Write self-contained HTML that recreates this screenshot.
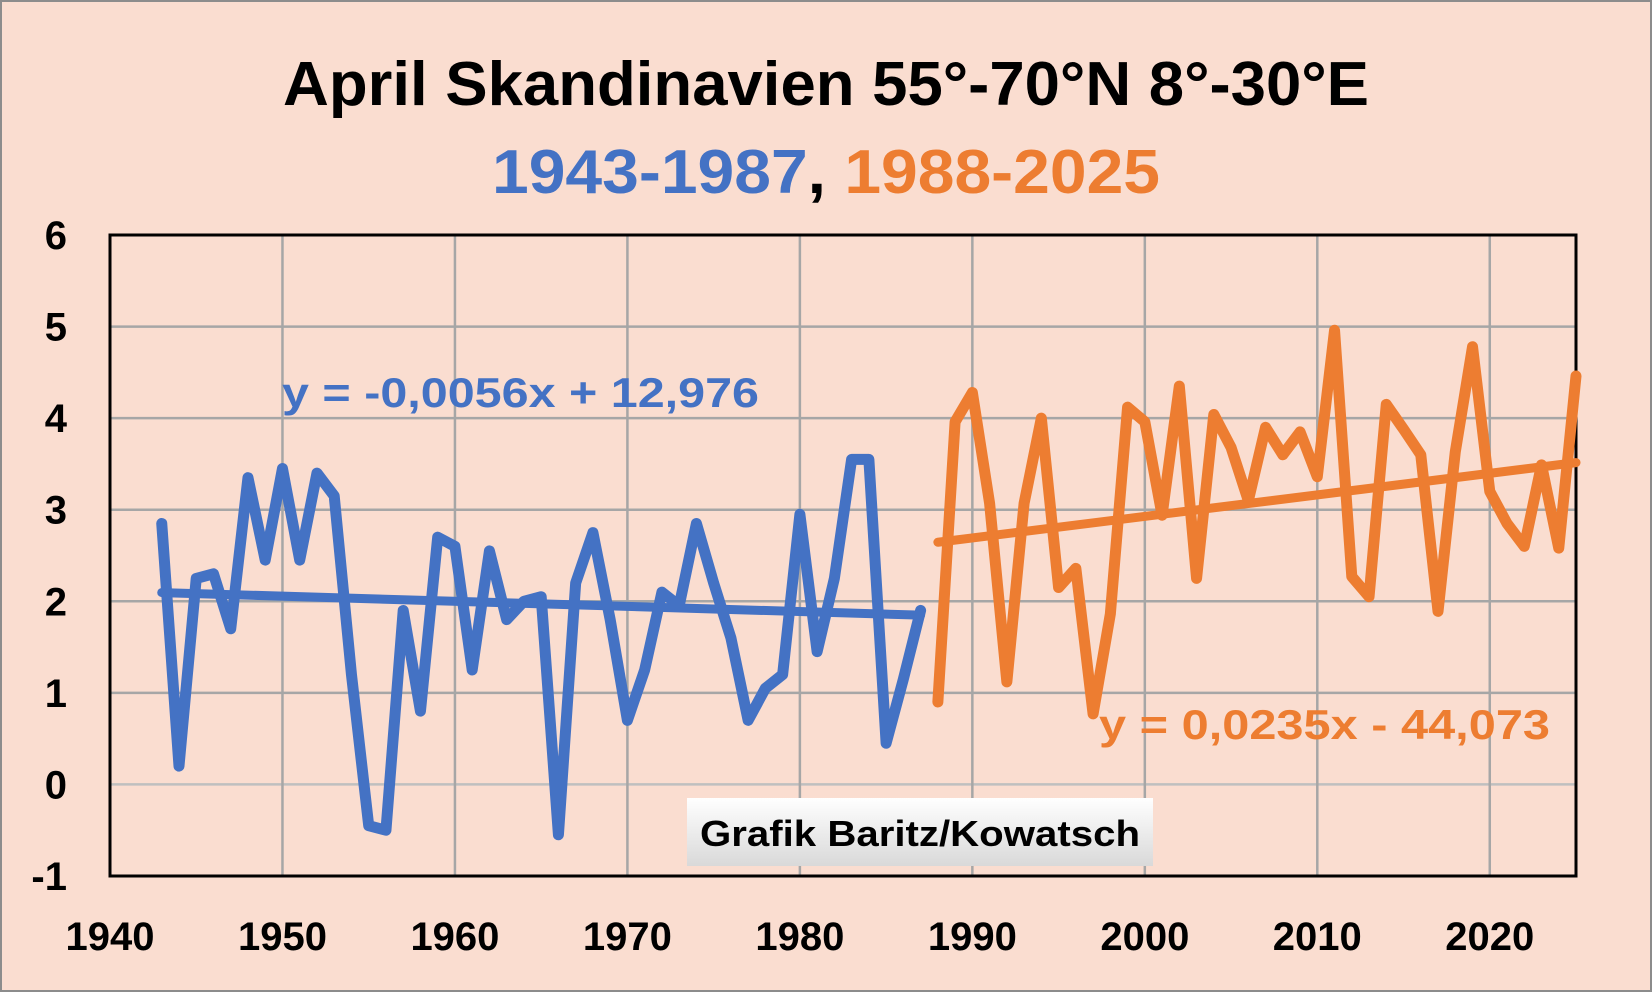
<!DOCTYPE html>
<html><head><meta charset="utf-8"><style>
html,body{margin:0;padding:0;background:#FADDD0;}
svg{display:block;font-family:"Liberation Sans",sans-serif;font-weight:bold;}
</style></head><body>
<svg id="chart" width="1652" height="992" viewBox="0 0 1652 992">
<rect x="1" y="1" width="1650" height="990" fill="#FADDD0" stroke="#8c8c8c" stroke-width="2"/>
<text x="826" y="105" text-anchor="middle" font-size="62" textLength="1086" lengthAdjust="spacingAndGlyphs" fill="#000">April Skandinavien 55°-70°N 8°-30°E</text>
<text x="826" y="193" text-anchor="middle" font-size="62" textLength="668" lengthAdjust="spacingAndGlyphs"><tspan fill="#4472C4">1943-1987</tspan><tspan fill="#000">, </tspan><tspan fill="#ED7D31">1988-2025</tspan></text>
<g id="grid"></g>
<g id="axes"></g>
<g id="series"></g>
<text x="282" y="407" font-size="42" fill="#4472C4" textLength="477" lengthAdjust="spacingAndGlyphs">y = -0,0056x + 12,976</text>
<text x="1099" y="739" font-size="42" fill="#ED7D31" textLength="451" lengthAdjust="spacingAndGlyphs">y = 0,0235x - 44,073</text>
<defs><linearGradient id="wm" x1="0" y1="0" x2="0" y2="1"><stop offset="0" stop-color="#ffffff"/><stop offset="1" stop-color="#d9d9d9"/></linearGradient></defs>
<rect x="687" y="798" width="466" height="68" fill="url(#wm)"/>
<text x="920" y="846" text-anchor="middle" font-size="36" fill="#000" textLength="440" lengthAdjust="spacingAndGlyphs">Grafik Baritz/Kowatsch</text>
</svg>
<script>
const blueYears=[1943,1944,1945,1946,1947,1948,1949,1950,1951,1952,1953,1954,1955,1956,1957,1958,1959,1960,1961,1962,1963,1964,1965,1966,1967,1968,1969,1970,1971,1972,1973,1974,1975,1976,1977,1978,1979,1980,1981,1982,1983,1984,1985,1986,1987];
const blueValues=[2.85,0.2,2.25,2.3,1.7,3.35,2.45,3.45,2.45,3.4,3.15,1.2,-0.45,-0.5,1.9,0.8,2.7,2.6,1.25,2.55,1.8,2.0,2.05,-0.55,2.2,2.75,1.8,0.7,1.25,2.1,1.95,2.85,2.2,1.6,0.7,1.05,1.2,2.95,1.45,2.25,3.55,3.55,0.45,1.15,1.9];
const orangeYears=[1988,1989,1990,1991,1992,1993,1994,1995,1996,1997,1998,1999,2000,2001,2002,2003,2004,2005,2006,2007,2008,2009,2010,2011,2012,2013,2014,2015,2016,2017,2018,2019,2020,2021,2022,2023,2024,2025];
const orangeValues=[0.9,3.96,4.28,3.07,1.12,3.07,4.0,2.15,2.36,0.77,1.86,4.12,3.96,2.94,4.35,2.25,4.04,3.68,3.1,3.9,3.6,3.85,3.36,4.96,2.27,2.05,4.15,3.88,3.6,1.89,3.63,4.78,3.2,2.85,2.6,3.49,2.58,4.46];
const blueTrend=[-0.0056,12.976];
const orangeTrend=[0.0235,-44.073];
const yTicks=[-1,0,1,2,3,4,5,6];
const xTicks=[1940,1950,1960,1970,1980,1990,2000,2010,2020];
const X0=110,X1=1576,Y0=876,Y1=235,xMin=1940,xMax=2025,yMin=-1,yMax=6;
const sx=v=>X0+(v-xMin)/(xMax-xMin)*(X1-X0);
const sy=v=>Y0-(v-yMin)/(yMax-yMin)*(Y0-Y1);
const NS='http://www.w3.org/2000/svg';
function mk(t,a,p){const e=document.createElementNS(NS,t);for(const k in a)e.setAttribute(k,a[k]);p.appendChild(e);return e;}
const grid=document.getElementById('grid'),axes=document.getElementById('axes'),ser=document.getElementById('series');
yTicks.forEach(v=>{
 const l=mk('line',{x1:X0,x2:X1,y1:sy(v),y2:sy(v),stroke:v===0?'#bfbfbf':'#a6a6a6','stroke-width':2.5},grid);
 
 
 const t=mk('text',{x:67,y:sy(v)+14,'text-anchor':'end','font-size':40,fill:'#000'},axes);
 t.textContent=v;
 
 
});
xTicks.forEach(v=>{
 const l=mk('line',{x1:sx(v),x2:sx(v),y1:Y1,y2:Y0,stroke:'#a6a6a6','stroke-width':2.5},grid);
 
 
 const t=mk('text',{x:sx(v),y:950,'text-anchor':'middle','font-size':40,fill:'#000'},axes);
 t.textContent=v;
 
 
});
const fr=mk('rect',{x:X0,y:Y1,width:X1-X0,height:Y0-Y1,fill:'none',stroke:'#000','stroke-width':3},axes);


function poly(xs,ys,c,w,name){
 const p=mk('polyline',{points:xs.map((x,i)=>sx(x)+','+sy(ys[i])).join(' '),fill:'none',stroke:c,'stroke-width':w,'stroke-linejoin':'round','stroke-linecap':'round'},ser);
 
 
}
function trend(xs,co,c,name){
 const a=xs[0],b=xs[xs.length-1];
 const l=mk('line',{x1:sx(a),y1:sy(co[0]*a+co[1]),x2:sx(b),y2:sy(co[0]*b+co[1]),stroke:c,'stroke-width':9,'stroke-linecap':'round'},ser);
 
 
}
trend(blueYears,blueTrend,'#4472C4','blue-trend-line');
poly(blueYears,blueValues,'#4472C4',11,'blue-series-line');
trend(orangeYears,orangeTrend,'#ED7D31','orange-trend-line');
poly(orangeYears,orangeValues,'#ED7D31',11,'orange-series-line');
</script>
</body></html>
